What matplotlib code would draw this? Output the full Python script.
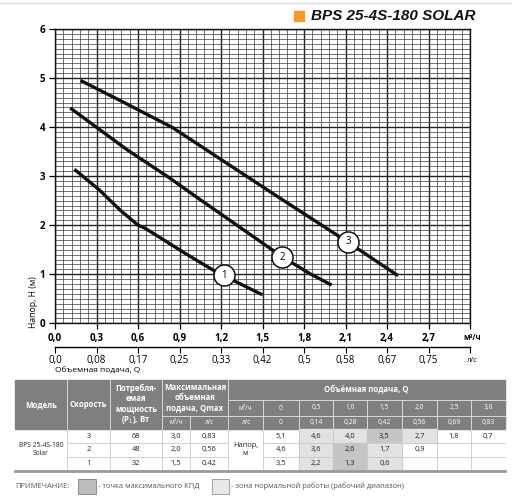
import numpy as np
import matplotlib
matplotlib.use("Agg")
import matplotlib.pyplot as plt
from matplotlib.patches import Rectangle
from matplotlib.ticker import MultipleLocator

plt.rcParams['font.family'] = ['Open Sans', 'DejaVu Sans']

# pump curves: flow Q (m3/h) -> head H (m)
q1 = [0.14, 0.32, 0.47, 0.60, 0.65, 0.95, 1.14, 1.22, 1.50]
h1 = [3.14, 2.72, 2.31, 2.00, 1.94, 1.41, 1.09, 0.97, 0.58]
q2 = [0.11, 0.52, 0.83, 1.04, 1.30, 1.64, 1.85, 2.00]
h2 = [4.39, 3.54, 2.96, 2.54, 2.03, 1.36, 1.00, 0.78]
q3 = [0.185, 0.50, 0.85, 1.20, 1.60, 2.12, 2.48]
h3 = [4.95, 4.50, 3.99, 3.34, 2.60, 1.65, 0.97]
label_names = ["1", "2", "3"]
label_q = [1.22, 1.64, 2.12]
label_h = [0.98, 1.35, 1.66]

x_ticks = [0.0, 0.3, 0.6, 0.9, 1.2, 1.5, 1.8, 2.1, 2.4, 2.7, 3.0]
m3h_labels = ["0,0", "0,3", "0,6", "0,9", "1,2", "1,5", "1,8", "2,1", "2,4", "2,7", ""]
ls_labels = ["0,0", "0,08", "0,17", "0,25", "0,33", "0,42", "0,5", "0,58", "0,67", "0,75", ""]

# table data
model = "BPS 25-4S-180\nSolar"
speeds = ["3", "2", "1"]
power = ["68", "48", "32"]
qmax_m3h = ["3,0", "2,0", "1,5"]
qmax_ls = ["0,83", "0,56", "0,42"]
q_m3h = ["0", "0,5", "1,0", "1,5", "2,0", "2,5", "3,0"]
q_ls = ["0", "0,14", "0,28", "0,42", "0,56", "0,69", "0,83"]
heads = [
    ["5,1", "4,6", "4,0", "3,5", "2,7", "1,8", "0,7"],
    ["4,6", "3,6", "2,6", "1,7", "0,9", "", ""],
    ["3,5", "2,2", "1,3", "0,6", "", "", ""],
]
# 0 = none, 1 = working range, 2 = best efficiency point
shade = [
    [0, 1, 1, 2, 1, 0, 0],
    [0, 1, 2, 1, 0, 0, 0],
    [0, 1, 2, 1, 0, 0, 0],
]

W, H = 512, 500
fig = plt.figure(figsize=(W / 100, H / 100), dpi=100)

# overlay in pixel coords for title, table, notes
tab = fig.add_axes([0, 0, 1, 1])
tab.set_xlim(0, W)
tab.set_ylim(H, 0)
tab.axis("off")

tab.plot([0, W], [2.5, 2.5], color="#dddddd", lw=1)
tab.add_patch(Rectangle((294, 11), 10, 10, color="#f39a2b"))
tab.text(311, 16.5, "BPS 25-4S-180 SOLAR", family="Liberation Sans", weight="bold",
         style="italic", fontsize=11, va="center", ha="left", color="#111111")

# main chart
top, bot = 29, 323.3
ax = fig.add_axes([55 / W, 1 - bot / H, 415 / W, (bot - top) / H])
ax.set_xlim(0, 3.0)
ax.set_ylim(0, 6)
ax.set_xticks(x_ticks, labels=m3h_labels)
ax.set_yticks(range(7))
ax.xaxis.set_minor_locator(MultipleLocator(0.06))
ax.yaxis.set_minor_locator(MultipleLocator(0.1))
ax.grid(which="major", color="#222222", lw=1.0)
ax.grid(which="minor", color="#3a3a3a", lw=0.5)
ax.set_axisbelow(True)
ax.tick_params(which="minor", length=0)
ax.tick_params(which="major", direction="out", length=4, width=0.9, labelsize=7, pad=3)
for lab in ax.get_xticklabels() + ax.get_yticklabels():
    lab.set_fontweight("bold")
for sp in ax.spines.values():
    sp.set_linewidth(1.0)
    sp.set_color("#111111")

for qs, hs in [(q1, h1), (q2, h2), (q3, h3)]:
    ax.plot(qs, hs, color="#111111", lw=2.4, solid_capstyle="butt", zorder=3)
ax.scatter(label_q, label_h, s=230, facecolor="white", edgecolor="#111111", lw=1.1, zorder=4)
for n, xq, yh in zip(label_names, label_q, label_h):
    ax.text(xq, yh, n, ha="center", va="center", fontsize=7, zorder=5)

sec = ax.secondary_xaxis(-(346.7 - bot) / (bot - top))
sec.set_xticks(x_ticks, labels=ls_labels)
sec.tick_params(direction="out", length=4, width=0.8, labelsize=7, pad=2)
sec.spines["bottom"].set_linewidth(1.0)

tab.text(472, 337, "м³/ч", fontsize=5.5, weight="bold", ha="center", va="center")
tab.text(472, 360, "л/с", fontsize=5.5, ha="center", va="center")
tab.text(55, 371, "Объемная подача, Q", fontsize=6, ha="left", va="center")
tab.text(33, 302, "Напор, Н (м)", fontsize=6.2, rotation=90, ha="center", va="center")

# table
cols = [15, 67, 110, 162, 190, 228, 263, 299, 333, 367, 402, 437, 471, 505]
r_top, r_mid1, r_mid2, r_hdr = 380, 400, 416, 429.3
row_h = 13.6
hdr_color = "#7f7f7f"
tab.add_patch(Rectangle((15, r_top), 490, r_hdr - r_top, color=hdr_color))
sep = dict(color="#d8d8d8", lw=0.7)
for x in [67, 110, 162, 228]:
    tab.plot([x, x], [r_top, r_hdr], **sep)
tab.plot([190, 190], [r_mid2, r_hdr], **sep)
tab.plot([162, 228], [r_mid2, r_mid2], **sep)
tab.plot([228, 505], [r_mid1, r_mid1], **sep)
tab.plot([228, 505], [r_mid2, r_mid2], **sep)
for x in cols[6:-1]:
    tab.plot([x, x], [r_mid1, r_hdr], **sep)

ht = dict(color="white", weight="bold", ha="center", va="center", fontsize=5.6, linespacing=1.15)
hy = (r_top + r_hdr) / 2
tab.text((15 + 67) / 2, hy, "Модель", **ht)
tab.text((67 + 110) / 2, hy, "Скорость", **ht)
tab.text((110 + 162) / 2, hy, "Потребля-\nемая\nмощность\n(P$_1$), Вт", **ht)
tab.text((162 + 228) / 2, (r_top + r_mid2) / 2, "Максимальная\nобъемная\nподача, Qmax", **ht)
tab.text((228 + 505) / 2, (r_top + r_mid1) / 2, "Объёмная подача, Q", **ht)
st = dict(color="white", ha="center", va="center", fontsize=4.8)
tab.text((162 + 190) / 2, (r_mid2 + r_hdr) / 2, "м³/ч", **st)
tab.text((190 + 228) / 2, (r_mid2 + r_hdr) / 2, "л/с", **st)
tab.text((228 + 263) / 2, (r_mid1 + r_mid2) / 2, "м³/ч", **st)
tab.text((228 + 263) / 2, (r_mid2 + r_hdr) / 2, "л/с", **st)
for i in range(7):
    cx = (cols[6 + i] + cols[7 + i]) / 2
    tab.text(cx, (r_mid1 + r_mid2) / 2, q_m3h[i], **st)
    tab.text(cx, (r_mid2 + r_hdr) / 2, q_ls[i], **st)

fills = {1: "#e2e2e2", 2: "#c4c4c4"}
dt = dict(ha="center", va="center", fontsize=5.4, color="#222222")
for r in range(3):
    y0 = r_hdr + r * row_h
    yc = y0 + row_h / 2
    for i in range(7):
        if shade[r][i]:
            tab.add_patch(Rectangle((cols[6 + i], y0), cols[7 + i] - cols[6 + i], row_h,
                                    color=fills[shade[r][i]], zorder=1))
        tab.text((cols[6 + i] + cols[7 + i]) / 2, yc, heads[r][i], zorder=3, **dt)
    tab.text((67 + 110) / 2, yc, speeds[r], zorder=3, **dt)
    tab.text((110 + 162) / 2, yc, power[r], zorder=3, **dt)
    tab.text((162 + 190) / 2, yc, qmax_m3h[r], zorder=3, **dt)
    tab.text((190 + 228) / 2, yc, qmax_ls[r], zorder=3, **dt)
    if r > 0:
        tab.plot([67, 228], [y0, y0], color="#c8c8c8", lw=0.6, zorder=2)
        tab.plot([263, 505], [y0, y0], color="#c8c8c8", lw=0.6, zorder=2)
t_bot = r_hdr + 3 * row_h
for x in cols[1:-1]:
    tab.plot([x, x], [r_hdr, t_bot], color="#c8c8c8", lw=0.6, zorder=2)
tab.text((15 + 67) / 2, r_hdr + 1.5 * row_h, model, zorder=3, linespacing=1.1, **dict(dt, fontsize=4.8))
tab.text((228 + 263) / 2, r_hdr + 1.5 * row_h, "Напор,\nм", zorder=3, linespacing=1.3, **dt)
tab.plot([15, 505], [t_bot + 0.5, t_bot + 0.5], color="#9a9a9a", lw=2, zorder=2)

# notes
nt = dict(fontsize=5.4, color="#555555", va="center")
tab.text(15, 486, "ПРИМЕЧАНИЕ:", ha="left", **nt)
tab.add_patch(Rectangle((78, 478.5), 18, 15, facecolor="#bdbdbd", edgecolor="#8a8a8a", lw=0.7))
tab.text(98, 486, "- точка максимального КПД", ha="left", **nt)
tab.add_patch(Rectangle((212, 478.5), 17, 15, facecolor="#e8e8e8", edgecolor="#a0a0a0", lw=0.7))
tab.text(231, 486, "- зона нормальной работы (рабочий диапазон)", ha="left", **nt)

fig.savefig("out.png", dpi=100)
